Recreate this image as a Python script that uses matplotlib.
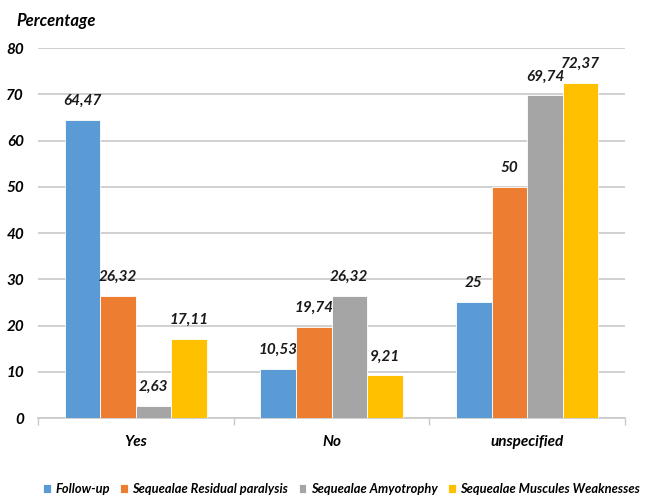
import matplotlib
matplotlib.use("Agg")
import matplotlib.pyplot as plt
import numpy as np

categories = ["Yes", "No", "unspecified"]
series_names = ["Follow-up", "Sequealae Residual paralysis",
                "Sequealae Amyotrophy", "Sequealae Muscules Weaknesses"]
follow_up = [64.47, 10.53, 25]
residual_paralysis = [26.32, 19.74, 50]
amyotrophy = [2.63, 26.32, 69.74]
muscles_weakness = [17.11, 9.21, 72.37]
value_labels = [["64,47", "10,53", "25"], ["26,32", "19,74", "50"],
                ["2,63", "26,32", "69,74"], ["17,11", "9,21", "72,37"]]
yticks = [0, 10, 20, 30, 40, 50, 60, 70, 80]

colors = ["#5B9BD5", "#ED7D31", "#A5A5A5", "#FFC000"]
series = [follow_up, residual_paralysis, amyotrophy, muscles_weakness]

plt.rcParams["font.family"] = ["Lato", "DejaVu Sans"]
font = dict(fontweight="bold", fontstyle="italic")

fig = plt.figure(figsize=(6.48, 4.99), dpi=100)
ax = fig.add_axes([0.0586, 0.1623, 0.906, 0.7415])

x = np.arange(len(categories))
bw = 0.182
for i, (vals, c) in enumerate(zip(series, colors)):
    pos = x + (i - 1.5) * bw
    bars = ax.bar(pos, vals, width=bw, color=c, edgecolor="white",
                  linewidth=0.6, zorder=3, label=series_names[i])
    for b, v, lab in zip(bars, vals, value_labels[i]):
        ax.text(b.get_x() + b.get_width() / 2, v + 2.6, lab,
                ha="center", va="bottom", fontsize=11, color="#1a1a1a", **font)

ax.set_xlim(-0.5, 2.5)
ax.set_ylim(0, 80)
ax.set_yticks(yticks)
ax.set_yticklabels([str(t) for t in yticks], fontsize=11, **font)
ax.yaxis.grid(True, color="#c8c8c8", linewidth=1.2, zorder=0)
ax.tick_params(axis="y", length=0, pad=10)

ax.set_xticks(x)
ax.set_xticklabels(categories, fontsize=11, **font)
ax.set_xticks([-0.5, 0.5, 1.5, 2.5], minor=True)
ax.tick_params(axis="x", which="major", length=0, pad=12)
ax.tick_params(axis="x", which="minor", length=5, color="#c8c8c8", width=1)

for s in ["top", "right", "left"]:
    ax.spines[s].set_visible(False)
ax.spines["bottom"].set_color("#c8c8c8")
ax.spines["bottom"].set_linewidth(1.2)

fig.text(0.025, 0.958, "Percentage", fontsize=12, ha="left", va="center", **font)

leg = fig.legend(loc="lower center", bbox_to_anchor=(0.527, -0.015), ncol=4,
                 frameon=False, handlelength=0.6, handleheight=0.7,
                 handletextpad=0.35, columnspacing=0.8,
                 prop=dict(family=["Lato", "DejaVu Sans"], size=9.3,
                           weight="bold", style="italic"))

fig.savefig("out.png", dpi=100)
